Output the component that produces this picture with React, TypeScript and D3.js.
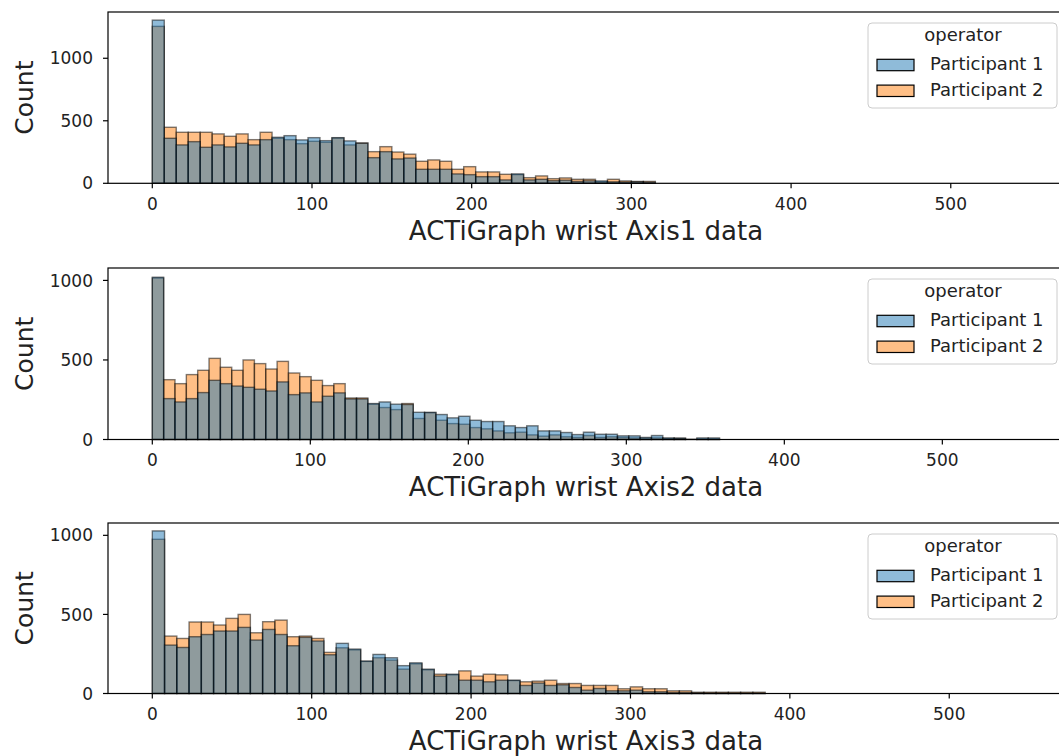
import React from "react";
import * as d3 from "d3";

// ---------- data ----------
const seriesNames = ["Participant 1", "Participant 2"];
const legendTitle = "operator";
const xTicks = [0, 100, 200, 300, 400, 500];
const yTicks = [0, 500, 1000];
const xLabels = ["ACTiGraph wrist Axis1 data", "ACTiGraph wrist Axis2 data", "ACTiGraph wrist Axis3 data"];
const yLabel = "Count";

// bin widths (data units) per panel
const binWidths = [7.5, 7.18, 7.69];

// Axis1 counts
const axis1P1 = [1305, 360, 307, 333, 288, 307, 291, 320, 307, 349, 368, 381, 347, 365, 341, 365, 339, 320, 205, 253, 195, 202, 112, 112, 112, 75, 69, 53, 53, 27, 75, 27, 32, 21, 25, 15, 20, 19, 12, 10, 12, 8];
const axis1P2 = [1255, 448, 408, 408, 408, 395, 376, 395, 349, 408, 360, 349, 317, 336, 328, 362, 307, 323, 253, 293, 250, 233, 176, 187, 176, 112, 133, 91, 91, 72, 70, 45, 59, 37, 43, 32, 32, 12, 32, 19, 15, 15];

// Axis2 counts
const axis2P1 = [1020, 257, 236, 257, 295, 372, 351, 336, 328, 316, 305, 362, 282, 293, 236, 272, 293, 255, 255, 226, 236, 222, 220, 171, 171, 157, 136, 146, 121, 113, 113, 86, 75, 86, 54, 54, 44, 31, 46, 33, 33, 23, 23, 13, 25, 10, 8, 2, 10, 10];
const axis2P2 = [1015, 376, 351, 408, 435, 510, 454, 435, 500, 477, 443, 491, 418, 395, 372, 339, 351, 261, 261, 222, 201, 188, 226, 132, 168, 121, 100, 96, 75, 67, 54, 42, 46, 29, 21, 29, 17, 13, 25, 13, 17, 13, 10, 8, 10, 6, 8, 0, 2, 3];

// Axis3 counts
const axis3P1 = [1028, 306, 291, 359, 373, 395, 395, 418, 338, 405, 373, 302, 355, 332, 245, 317, 281, 205, 247, 226, 176, 194, 154, 110, 122, 84, 84, 74, 84, 84, 51, 66, 51, 55, 38, 21, 32, 17, 17, 21, 11, 11, 6, 6, 4, 3, 3, 2, 2, 2];
const axis3P2 = [975, 363, 348, 452, 452, 433, 475, 500, 384, 454, 464, 359, 363, 348, 260, 289, 276, 203, 226, 211, 154, 188, 150, 122, 118, 143, 110, 122, 118, 82, 74, 78, 84, 63, 63, 51, 51, 51, 30, 42, 30, 30, 17, 17, 8, 8, 8, 8, 8, 8];

// ---------- layout ----------
const W = 1059;
const H = 756;
const LEFT = 108;
const RIGHT = 1064;
const FONT = "DejaVu Sans, Liberation Sans, sans-serif";
const colors = ["#1f77b4", "#ff7f0e"];
const lightColors = ["#8fbbd9", "#ffbf86"];

const panels = [
  { top: 12, bottom: 183.3, xDomain: [-27.74, 570.9], yMax: 1370, p1: axis1P1, p2: axis1P2 },
  { top: 268, bottom: 439.5, xDomain: [-28.04, 577.0], yMax: 1078, p1: axis2P1, p2: axis2P2 },
  { top: 523, bottom: 693.5, xDomain: [-27.8, 572.0], yMax: 1078, p1: axis3P1, p2: axis3P2 },
];

function Panel({ idx }: { idx: number }) {
  const p = panels[idx];
  const bw = binWidths[idx];
  const x = d3.scaleLinear().domain(p.xDomain).range([LEFT, RIGHT]);
  const y = d3.scaleLinear().domain([0, p.yMax]).range([p.bottom, p.top]);
  const layers = [
    { vals: p.p2, c: colors[1] },
    { vals: p.p1, c: colors[0] },
  ];
  return (
    <g>
      {layers.map((L, li) => (
        <g key={li}>
          {L.vals.map((v, i) => {
            const x0 = x(i * bw);
            const x1 = x((i + 1) * bw);
            const yt = y(v);
            return (
              <rect
                key={i}
                x={x0}
                y={yt}
                width={x1 - x0}
                height={Math.max(0, p.bottom - yt)}
                fill={L.c}
                fillOpacity={0.5}
                stroke="#000"
                strokeOpacity={0.5}
                strokeWidth={1.4}
              />
            );
          })}
        </g>
      ))}
      {/* spines */}
      <rect x={LEFT} y={p.top} width={RIGHT - LEFT} height={p.bottom - p.top} fill="none" stroke="#000" strokeWidth={1.2} />
      {/* x ticks */}
      {xTicks.map((t) => (
        <g key={t}>
          <line x1={x(t)} x2={x(t)} y1={p.bottom} y2={p.bottom + 5} stroke="#000" strokeWidth={1.2} />
          <text x={x(t)} y={p.bottom + 26.5} textAnchor="middle" fontSize={17} fontFamily={FONT} fill="#222">
            {t}
          </text>
        </g>
      ))}
      {/* y ticks */}
      {yTicks.map((t) => (
        <g key={t}>
          <line x1={LEFT - 5} x2={LEFT} y1={y(t)} y2={y(t)} stroke="#000" strokeWidth={1.2} />
          <text x={LEFT - 15} y={y(t)} dy="0.36em" textAnchor="end" fontSize={17} fontFamily={FONT} fill="#222">
            {t}
          </text>
        </g>
      ))}
      {/* axis labels */}
      <text x={(LEFT + RIGHT) / 2} y={p.bottom + 56.5} textAnchor="middle" fontSize={26} fontFamily={FONT} fill="#222">
        {xLabels[idx]}
      </text>
      <text
        transform={`translate(24,${(p.top + p.bottom) / 2}) rotate(-90)`}
        dy="0.36em"
        textAnchor="middle"
        fontSize={25}
        fontFamily={FONT}
        fill="#222"
      >
        {yLabel}
      </text>
      {/* legend */}
      <g transform={`translate(868,${p.top + 11})`}>
        <rect x={0} y={0} width={189} height={85} rx={4} fill="#fff" fillOpacity={0.8} stroke="#ccc" strokeWidth={1} />
        <text x={95} y={17.7} textAnchor="middle" fontSize={18} fontFamily={FONT} fill="#222">
          {legendTitle}
        </text>
        {seriesNames.map((s, i) => (
          <g key={s} transform={`translate(0,${i * 25.8})`}>
            <rect x={9} y={36.3} width={37} height={11.4} fill={lightColors[i]} stroke="#000" strokeWidth={1.2} />
            <text x={62} y={47} fontSize={18} fontFamily={FONT} fill="#222">
              {s}
            </text>
          </g>
        ))}
      </g>
    </g>
  );
}

export default function App() {
  return (
    <svg
      width={W}
      height={H}
      viewBox={`0 0 ${W} ${H}`}
      style={{ position: "absolute", left: 0, top: 0, background: "#fff" }}
    >
      <rect x={0} y={0} width={W} height={H} fill="#fff" />
      {panels.map((_, i) => (
        <Panel key={i} idx={i} />
      ))}
    </svg>
  );
}
